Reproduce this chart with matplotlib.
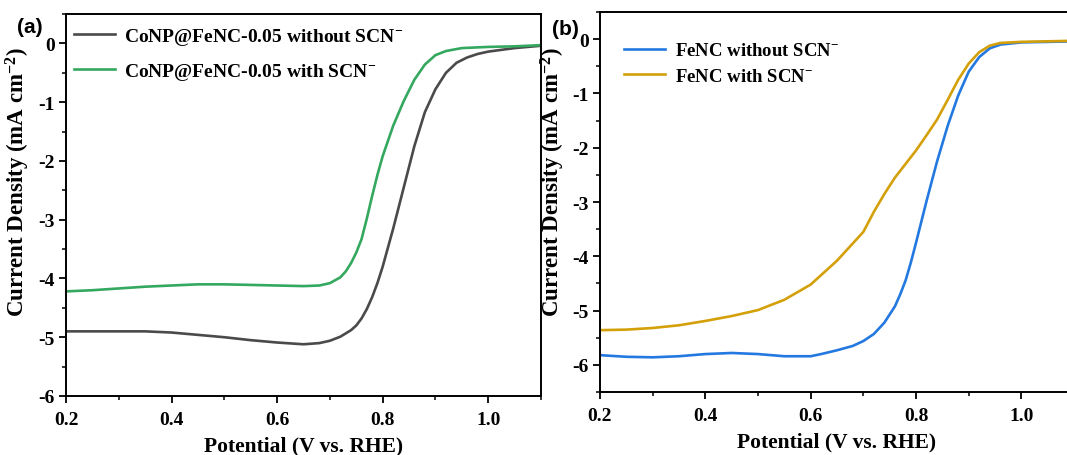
import matplotlib
matplotlib.use("Agg")
import matplotlib.pyplot as plt
from matplotlib.ticker import MultipleLocator

# ---- data ----
va_black = [0.20, 0.25, 0.30, 0.35, 0.40, 0.45, 0.50, 0.55, 0.60, 0.65, 0.68, 0.70, 0.72, 0.74, 0.75,
            0.76, 0.77, 0.78, 0.79, 0.80, 0.82, 0.84, 0.86, 0.88, 0.90, 0.92, 0.94, 0.96, 0.98,
            1.00, 1.05, 1.10]
ja_black = [-4.90, -4.90, -4.90, -4.90, -4.92, -4.96, -5.00, -5.05, -5.09, -5.12, -5.10, -5.06, -4.99, -4.88, -4.80,
            -4.68, -4.52, -4.32, -4.08, -3.80, -3.15, -2.45, -1.75, -1.17, -0.78, -0.50, -0.33, -0.24, -0.18,
            -0.14, -0.08, -0.04]

va_green = [0.20, 0.25, 0.30, 0.35, 0.40, 0.45, 0.50, 0.55, 0.60, 0.65, 0.68, 0.70, 0.72, 0.73, 0.74,
            0.75, 0.76, 0.77, 0.78, 0.79, 0.80, 0.82, 0.84, 0.86, 0.88, 0.90, 0.92, 0.95, 1.00, 1.05, 1.10]
ja_green = [-4.22, -4.20, -4.17, -4.14, -4.12, -4.10, -4.10, -4.11, -4.12, -4.13, -4.12, -4.08, -3.98, -3.88, -3.74,
            -3.56, -3.33, -2.98, -2.60, -2.24, -1.92, -1.40, -0.98, -0.62, -0.36, -0.20, -0.13, -0.08, -0.06, -0.05, -0.03]

vb_blue = [0.20, 0.25, 0.30, 0.35, 0.40, 0.45, 0.50, 0.55, 0.60, 0.62, 0.65, 0.68, 0.70, 0.72, 0.74,
           0.76, 0.77, 0.78, 0.79, 0.80, 0.82, 0.84, 0.86, 0.88, 0.90, 0.92, 0.94, 0.96, 1.00, 1.05, 1.10]
jb_blue = [-5.82, -5.85, -5.86, -5.84, -5.80, -5.78, -5.80, -5.84, -5.84, -5.80, -5.73, -5.65, -5.56, -5.43, -5.22,
           -4.92, -4.70, -4.45, -4.12, -3.75, -2.98, -2.25, -1.60, -1.04, -0.60, -0.33, -0.17, -0.10, -0.06, -0.05, -0.04]

vb_orange = [0.20, 0.25, 0.30, 0.35, 0.40, 0.45, 0.50, 0.55, 0.60, 0.65, 0.70, 0.72, 0.74, 0.76, 0.78,
             0.80, 0.82, 0.84, 0.86, 0.88, 0.90, 0.92, 0.94, 0.96, 1.00, 1.05, 1.10]
jb_orange = [-5.36, -5.35, -5.32, -5.27, -5.19, -5.10, -4.99, -4.80, -4.52, -4.08, -3.55, -3.18, -2.85, -2.55, -2.30,
             -2.05, -1.77, -1.48, -1.12, -0.75, -0.45, -0.24, -0.12, -0.07, -0.05, -0.04, -0.03]

labels_a = ["CoNP@FeNC-0.05 without SCN$^{-}$", "CoNP@FeNC-0.05 with SCN$^{-}$"]
labels_b = ["FeNC without SCN$^{-}$", "FeNC with SCN$^{-}$"]
xticks = [0.2, 0.4, 0.6, 0.8, 1.0]
yticks_a = [0, -1, -2, -3, -4, -5, -6]
yticks_b = [0, -1, -2, -3, -4, -5, -6]

plt.rcParams['font.family'] = ['Liberation Serif', 'DejaVu Serif']
plt.rcParams['font.weight'] = 'bold'
plt.rcParams['mathtext.fontset'] = 'custom'
plt.rcParams['mathtext.rm'] = 'Liberation Serif:bold'
plt.rcParams['mathtext.it'] = 'Liberation Serif:bold'
plt.rcParams['mathtext.bf'] = 'Liberation Serif:bold'
plt.rcParams['axes.linewidth'] = 1.4

fig = plt.figure(figsize=(10.67, 4.56), dpi=100)
ax1 = fig.add_axes([0.0619, 0.1294, 0.4451, 0.8377])
ax2 = fig.add_axes([0.5623, 0.138, 0.4443, 0.8335])

def style(ax, yt, ylim, ylab_xy):
    ax.set_xlim(0.2, 1.1)
    ax.set_ylim(*ylim)
    ax.set_xticks(xticks)
    ax.set_xticklabels([f"{t:.1f}" for t in xticks])
    ax.set_yticks(yt)
    ax.set_yticklabels([f"{t:d}" if t != 0 else "0" for t in yt])
    ax.xaxis.set_minor_locator(MultipleLocator(0.1))
    ax.yaxis.set_minor_locator(MultipleLocator(0.5))
    ax.tick_params(which='major', direction='out', length=5, width=1.3, labelsize=14,
                   top=False, right=False)
    ax.tick_params(axis='x', which='major', pad=6)
    ax.tick_params(axis='y', which='major', pad=3)
    ax.tick_params(which='minor', direction='out', length=3, width=1.1, top=False, right=False)
    for lab in ax.get_xticklabels() + ax.get_yticklabels():
        lab.set_fontweight('bold')
    ax.set_xlabel("Potential (V vs. RHE)", fontsize=15.5, fontweight='bold', labelpad=5)
    ax.set_ylabel("Current Density (mA cm$^{-2}$)", fontsize=16.5, fontweight='bold')
    ax.yaxis.set_label_coords(*ylab_xy)

ax1.plot(va_black, ja_black, color='#4a4a4a', lw=1.9, label=labels_a[0])
ax1.plot(va_green, ja_green, color='#35a860', lw=1.9, label=labels_a[1])
style(ax1, yticks_a, (-6, 0.5), (-0.072, 0.563))
ax1.legend(loc='upper left', frameon=False, fontsize=14, handlelength=2.1, handletextpad=0.5,
           borderaxespad=0.2, labelspacing=0.72, bbox_to_anchor=(-0.008, 1.0))

ax2.plot(vb_blue, jb_blue, color='#2479e0', lw=1.9, label=labels_b[0])
ax2.plot(vb_orange, jb_orange, color='#d4a00a', lw=1.9, label=labels_b[1])
style(ax2, yticks_b, (-6.5, 0.5), (-0.07, 0.555))
ax2.legend(loc='upper left', frameon=False, fontsize=13.5, handlelength=2.2, handletextpad=0.5,
           borderaxespad=0.0, labelspacing=0.45, bbox_to_anchor=(0.035, 0.94))

fig.text(0.016, 0.9386, "(a)", fontsize=15, fontweight='bold', family='Liberation Sans', va='center')
fig.text(0.517, 0.936, "(b)", fontsize=15, fontweight='bold', family='Liberation Sans', va='center')

fig.savefig("out.png", dpi=100)
